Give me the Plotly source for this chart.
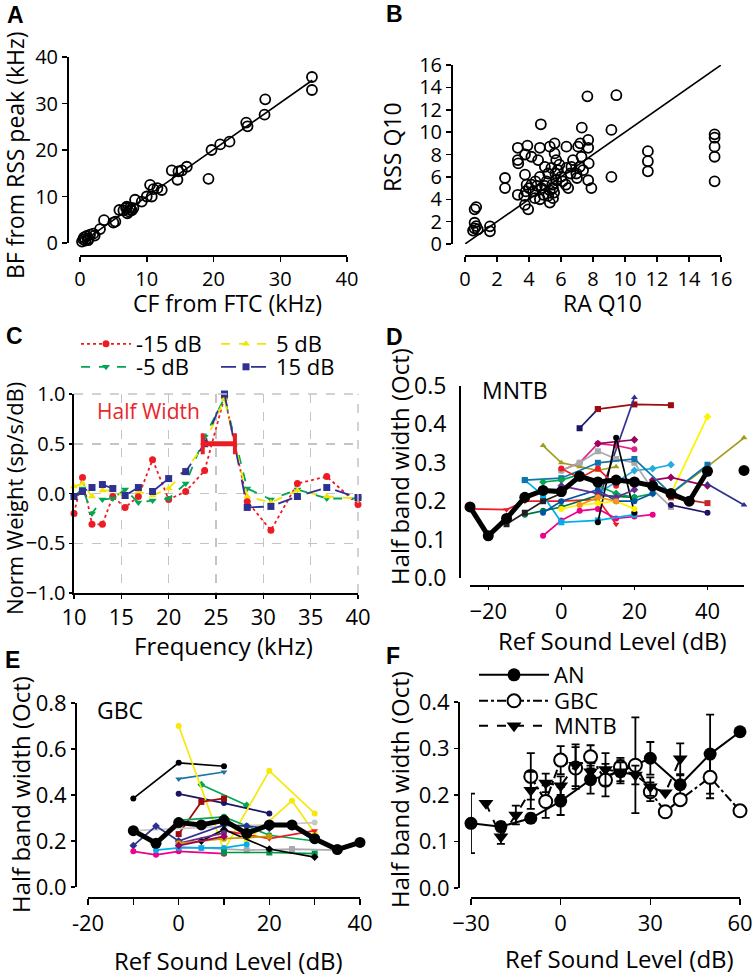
import plotly.graph_objects as go

# ---------------- DATA ----------------
# Panel A
a_cf = [0.3,0.5,0.6,0.8,1.0,1.2,1.3,1.5,2.0,2.2,3.0,3.6,5.0,5.3,5.9,6.5,6.9,7.0,7.1,7.3,7.5,7.6,7.75,8.0,8.25,
        9.25,10.0,10.5,10.75,11.0,11.6,12.25,13.75,14.6,14.75,15.25,16.0,19.25,19.7,21.0,22.4,24.9,25.1,27.65,27.75,34.75,34.75]
a_bf = [0.3,0.8,1.2,0.5,1.5,0.6,1.0,1.8,2.0,1.6,3.0,4.9,4.4,4.6,7.1,7.0,7.5,7.8,6.4,6.8,7.6,7.2,7.0,7.5,9.3,
        8.9,10.0,12.5,10.0,11.6,11.8,11.4,15.6,13.6,15.4,15.6,16.4,13.8,20.0,21.2,21.8,25.9,25.1,27.6,30.9,35.7,32.9]
a_fit_x = [0.3, 34.8]
a_fit_y = [0.2, 35.0]

# Panel B
b_ra = [0.5,0.6,0.7,0.8,0.6,0.7,0.6,1.56,1.56,
        2.5,2.5,3.3,3.3,3.33,3.3,3.9,3.75,3.75,3.85,3.7,3.75,3.95,4.15,4.15,4.26,4.37,4.68,4.74,4.57,4.68,4.78,4.68,
        4.99,5.1,5.2,5.3,5.45,5.3,5.5,5.6,5.6,5.7,5.65,5.7,5.57,6.34,6.34,6.3,6.45,6.75,6.65,6.96,7.0,7.07,7.2,7.3,
        7.17,7.28,7.38,7.65,7.7,7.7,7.73,7.7,7.9,9.15,9.15,9.46,11.43,11.43,11.43,15.6,15.6,15.6,15.6,15.6,
        5.0,5.2,5.4,5.8,6.0,5.9,4.4,4.9,5.5,6.1,6.6,5.3,4.5,4.0,3.8]
b_rss = [1.2,1.4,1.6,1.3,1.9,3.3,3.1,1.58,1.13,
         5.9,5.0,8.6,7.5,7.2,4.4,8.8,8.0,6.2,5.3,4.3,3.5,3.1,7.8,5.3,4.7,4.1,8.6,10.7,7.5,6.0,5.0,4.0,
         6.9,5.6,4.3,8.7,5.3,3.7,4.1,9.0,8.1,7.5,6.3,5.7,4.6,8.7,6.8,5.3,5.0,7.5,6.9,6.3,5.9,8.7,9.0,10.4,
         6.9,7.8,6.6,13.2,9.3,8.6,7.2,5.7,5.0,10.2,6.0,13.3,8.3,7.4,6.5,9.8,9.5,8.7,7.8,5.6,
         5.2,6.3,6.8,6.6,6.0,7.1,5.6,4.4,5.0,5.6,6.3,4.8,5.2,5.0,4.7]
b_fit_x = [0, 16]
b_fit_y = [0, 16]

# Panel C
c_freq = [10.0,10.9,11.9,13.0,14.1,15.4,16.8,18.3,20.0,21.8,23.8,25.9,28.3,30.8,33.6,36.7,40.0]
c_m15 = [-0.20,0.16,-0.31,-0.31,-0.03,-0.14,-0.03,0.34,-0.06,0.02,0.23,0.97,-0.08,-0.37,0.10,0.17,-0.11]
c_m5  = [-0.03,0.05,-0.20,-0.06,-0.05,0.04,-0.09,-0.07,-0.05,0.10,0.57,0.96,0.05,-0.06,0.04,-0.05,-0.05]
c_p5  = [0.07,0.10,-0.03,0.03,0.03,-0.03,0.02,-0.02,0.05,0.23,0.50,0.95,-0.03,-0.09,0.03,-0.03,-0.05]
c_p15 = [-0.03,0.02,0.06,0.09,0.05,-0.02,0.06,0.02,0.15,0.22,0.50,1.00,-0.14,-0.13,-0.03,0.06,-0.04]
c_names = ["-15 dB", "-5 dB", "5 dB", "15 dB"]
half_width_x = [23.6, 27.0]
half_width_y = [0.5, 0.5]

# Panel D (MNTB single neurons + mean)
mntb_levels = [
    [-25,-15,-10,0,10,15], [5,10], [10,20,30], [10,20], [-5,0,5,10,15], [30,40,50], [30,40],
    [-5,0,5,10,15,20,25], [0,5,10,15,20], [10,20], [25,30,40], [-10,-5,0,10,20], [10,20,25,30],
    [0,5,10,15,20,25,30], [-10,0,10,20,30,40], [-10,-5,0,10,20], [-5,0,5,10,15,20,25], [10,15,20],
    [30,40], [30,40], [40,50], [0,5,10,15,20], [0,5,10,15], [-5,0,10,15,20,25], [0,10,15,20],
    [5,10,15], [-15,-10,-5,0]]
mntb_widths = [
    [0.18,0.178,0.2,0.2,0.205,0.14], [0.39,0.44], [0.44,0.452,0.45], [0.2,0.47], [0.345,0.3,0.29,0.28,0.29],
    [0.22,0.29,0.365], [0.22,0.42], [0.11,0.15,0.175,0.18,0.155,0.16,0.165], [0.28,0.3,0.35,0.345,0.335],
    [0.35,0.36], [0.255,0.262,0.24], [0.255,0.215,0.145,0.15,0.165], [0.22,0.28,0.285,0.295],
    [0.28,0.3,0.33,0.31,0.3,0.23,0.185], [0.255,0.26,0.3,0.31,0.22,0.295], [0.165,0.175,0.185,0.215,0.21],
    [0.25,0.255,0.27,0.24,0.22,0.21,0.22], [0.145,0.365,0.17], [0.21,0.195], [0.19,0.17], [0.245,0.19],
    [0.18,0.19,0.195,0.2,0.18], [0.285,0.26,0.285,0.24], [0.17,0.2,0.23,0.2,0.2,0.22], [0.24,0.22,0.21,0.23],
    [0.19,0.21,0.2], [0.14,0.17,0.2,0.22]]
mntb_colors = ['#ed1c24','#1b1464','#9e0b0f','#2e3192','#a19c1e','#a19c1e','#fff200','#ec008c','#e0218a',
               '#9e005d','#9e005d','#00aeef','#27aae1','#a7a9ac','#0f75a8','#00743f','#00a651','#000000',
               '#c1272d','#1b1464','#2e3192','#fff200','#ed1c24','#0054a6','#662d91','#f7941d','#231f20']
mntb_symbols = ['triangle-down','square','square','triangle-up','triangle-up','triangle-up','diamond','circle',
                'circle','diamond','diamond','square','diamond','square','square','circle','diamond','circle',
                'square','circle','triangle-up','circle','circle','circle','diamond','circle','square']
mntb_mean_levels = [-25,-20,-15,-10,-5,0,5,10,15,20,25,30,35,40]
mntb_mean_widths = [0.185,0.11,0.155,0.21,0.228,0.225,0.265,0.25,0.255,0.25,0.24,0.22,0.2,0.278]
mntb_extra_level = [50]
mntb_extra_width = [0.28]

# Panel E (GBC single neurons + mean)
gbc_levels = [
    [-10,0,10], [0,10], [5,15], [0,10,20], [0,10,20,30], [15,25,30], [0,5,10], [0,10,15,20,30], [-10,30],
    [0,5,15,25,35], [-10,-5,0,10,15,20], [-10,-5,0,10], [-5,0,5,10,15], [10,20,30], [10,20,30],
    [5,10,20,30], [0,10], [0,10,20], [0,10]]
gbc_widths = [
    [0.385,0.54,0.525], [0.47,0.5], [0.445,0.355], [0.405,0.365,0.32], [0.7,0.16,0.505,0.32], [0.2,0.375,0.235],
    [0.23,0.37,0.385], [0.29,0.305,0.265,0.225,0.2], [0.245,0.28], [0.175,0.17,0.16,0.165,0.16],
    [0.18,0.265,0.2,0.27,0.265,0.255], [0.155,0.14,0.155,0.145], [0.16,0.17,0.17,0.17,0.185],
    [0.245,0.21,0.245], [0.15,0.15,0.145], [0.2,0.25,0.165,0.13], [0.19,0.235], [0.19,0.21,0.22], [0.18,0.22]]
gbc_colors = ['#000000','#1b75a0','#00a651','#1b1464','#f5e80f','#f5e80f','#9e0b0f','#00a651','#c8c8c8',
              '#a7a9ac','#2e3192','#ec008c','#00aeef','#ed1c24','#009245','#000000','#662d91','#c69c00','#9e005d']
gbc_symbols = ['circle','triangle-down','diamond','circle','circle','circle','square','circle','circle','square',
               'diamond','circle','circle','triangle-down','square','diamond','circle','circle','diamond']
gbc_mean_levels = [-10,-5,0,5,10,15,20,25,30,35,40]
gbc_mean_widths = [0.245,0.19,0.28,0.27,0.29,0.233,0.27,0.27,0.21,0.163,0.194]

# Panel F (population means with error bars)
an_levels = [-30,-20,-10,0,10,20,30,40,50,60]
an_mean = [0.139,0.132,0.15,0.187,0.233,0.25,0.279,0.222,0.288,0.336]
an_err = [0.064,0.01,0.01,0.03,0.03,0.025,0.035,0.02,0.085,0.0]
gbc_f_levels = [-10,-5,0,5,10,15,20,25,30,35,40,50,60]
gbc_f_mean = [0.24,0.186,0.275,0.258,0.282,0.232,0.26,0.264,0.207,0.164,0.19,0.238,0.166]
gbc_f_err = [0.05,0.035,0.03,0.045,0.025,0.035,0.02,0.103,0.02,0.0,0.0,0.045,0.0]
mntb_f_levels = [-25,-20,-15,-10,-5,0,5,10,15,20,25,30,35,40]
mntb_f_mean = [0.182,0.11,0.157,0.21,0.226,0.22,0.264,0.25,0.255,0.25,0.243,0.218,0.205,0.278]
mntb_f_err = [0.0,0.015,0.02,0.04,0.02,0.02,0.045,0.02,0.035,0.02,0.02,0.02,0.0,0.033]

# ---------------- FIGURE ----------------
W, H = 756, 976
FONT = "Open Sans"


def xdom(a, b):
    return [a / W, b / W]


def ydom(top, bottom):
    return [1 - bottom / H, 1 - top / H]


fig = go.Figure()


def sc(x, y, xa, ya, **kw):
    d = dict(x=x, y=y, xaxis=xa, yaxis=ya, cliponaxis=False, showlegend=False, hoverinfo='skip')
    d.update(kw)
    fig.add_trace(go.Scatter(**d))


# A
sc(a_fit_x, a_fit_y, 'x', 'y', mode='lines', line=dict(color='black', width=1.6))
sc(a_cf, a_bf, 'x', 'y', mode='markers',
   marker=dict(symbol='circle-open', size=10, color='black', line=dict(width=1.8, color='black')))
# B
sc(b_fit_x, b_fit_y, 'x2', 'y2', mode='lines', line=dict(color='black', width=1.6))
sc(b_ra, b_rss, 'x2', 'y2', mode='markers',
   marker=dict(symbol='circle-open', size=10, color='black', line=dict(width=1.8, color='black')))

# C
c_series = [c_m15, c_m5, c_p5, c_p15]
c_colors = ['#ed1c24', '#00a651', '#f2e600', '#2e3192']
c_dash = ['dot', 'dash', 'dash', 'longdash']
c_sym = ['circle', 'triangle-down', 'triangle-up', 'square']
c_legs = ['legend', 'legend3', 'legend2', 'legend4']
for s, col, da, sy, lg, nm in zip(c_series, c_colors, c_dash, c_sym, c_legs, c_names):
    sc(c_freq, s, 'x3', 'y3', mode='lines+markers', name=nm, showlegend=True, legend=lg,
       line=dict(color=col, width=1.8, dash=da), marker=dict(symbol=sy, size=7, color=col))
sc(half_width_x, half_width_y, 'x3', 'y3', mode='lines+markers', line=dict(color='#ed1c24', width=5),
   marker=dict(symbol='line-ns', size=15, color='#ed1c24', line=dict(width=4, color='#ed1c24')))

# D
for xs, ys, col, sy in zip(mntb_levels, mntb_widths, mntb_colors, mntb_symbols):
    sc(xs, ys, 'x4', 'y4', mode='lines+markers', line=dict(color=col, width=1.7),
       marker=dict(symbol=sy, size=6, color=col))
sc(mntb_mean_levels, mntb_mean_widths, 'x4', 'y4', mode='lines+markers', line=dict(color='black', width=5),
   marker=dict(symbol='circle', size=11, color='black'))
sc(mntb_extra_level, mntb_extra_width, 'x4', 'y4', mode='markers', marker=dict(symbol='circle', size=11, color='black'))

# E
for xs, ys, col, sy in zip(gbc_levels, gbc_widths, gbc_colors, gbc_symbols):
    sc(xs, ys, 'x5', 'y5', mode='lines+markers', line=dict(color=col, width=1.7),
       marker=dict(symbol=sy, size=6, color=col))
sc(gbc_mean_levels, gbc_mean_widths, 'x5', 'y5', mode='lines+markers', line=dict(color='black', width=5),
   marker=dict(symbol='circle', size=11, color='black'))

# F
errstyle = dict(type='data', color='black', thickness=1.8, width=4)
sc(an_levels, an_mean, 'x6', 'y6', mode='lines+markers', name='AN', showlegend=True, legend='legend5',
   line=dict(color='black', width=2), marker=dict(symbol='circle', size=13, color='black'),
   error_y=dict(array=an_err, **errstyle))
sc(gbc_f_levels, gbc_f_mean, 'x6', 'y6', mode='lines+markers', name='GBC', showlegend=True, legend='legend6',
   line=dict(color='black', width=2, dash='dashdot'),
   marker=dict(symbol='circle', size=13, color='white', line=dict(width=2, color='black')),
   error_y=dict(array=gbc_f_err, **errstyle))
sc(mntb_f_levels, mntb_f_mean, 'x6', 'y6', mode='lines+markers', name='MNTB', showlegend=True, legend='legend7',
   line=dict(color='black', width=2, dash='dash'), marker=dict(symbol='triangle-down', size=13, color='black'),
   error_y=dict(array=mntb_f_err, **errstyle))


def axis(size=22, **kw):
    base = dict(showgrid=False, zeroline=False, showline=True, linecolor='black', linewidth=1.6,
                ticks='outside', ticklen=5, tickwidth=1.5, tickcolor='black', automargin=False,
                tickfont=dict(family=FONT, size=size, color='black'))
    base.update(kw)
    return base


layout = dict(
    width=W, height=H, margin=dict(l=0, r=0, t=0, b=0, pad=0, autoexpand=False),
    paper_bgcolor='white', plot_bgcolor='rgba(0,0,0,0)',
    font=dict(family=FONT, color='black'),
    xaxis=axis(20, domain=xdom(80, 347), range=[0, 40], dtick=10, anchor='free', position=1 - 255 / H),
    yaxis=axis(20, domain=ydom(57, 243), range=[0, 40], dtick=10, anchor='free', position=67 / W),
    xaxis2=axis(20, domain=xdom(465, 721), range=[0, 16], dtick=2, anchor='free', position=1 - 255 / H),
    yaxis2=axis(20, domain=ydom(65, 244), range=[0, 16], dtick=2, anchor='free', position=451 / W),
    xaxis3=axis(22, domain=xdom(74, 358), range=[10, 40], dtick=5, anchor='y3', ticklen=4,
                showgrid=True, gridcolor='#c4c4c4', griddash='dash', gridwidth=1.5),
    yaxis3=axis(20, domain=ydom(394, 593), range=[-1, 1], dtick=0.5, anchor='x3', ticklen=3, tickformat='.1f',
                showgrid=True, gridcolor='#c4c4c4', griddash='dash', gridwidth=1.5),
    xaxis4=axis(22, domain=xdom(470, 744), range=[-25, 50], tickvals=[-20, 0, 20, 40], ticklen=3,
                ticklabelstandoff=3, anchor='free', position=1 - 585 / H),
    yaxis4=axis(23, domain=ydom(386, 578), range=[0, 0.5], dtick=0.1, tickformat='.1f', ticks='',
                ticklabelstandoff=8, anchor='free', position=459 / W),
    xaxis5=axis(22, domain=xdom(88, 360), range=[-20, 40], tickvals=[-20, -10, 0, 10, 20, 30, 40],
                ticktext=['-20', '', '0', '', '20', '', '40'], ticklen=6, anchor='free', position=1 - 897 / H),
    yaxis5=axis(22, domain=ydom(703, 887), range=[0, 0.8], dtick=0.2, tickformat='.1f', ticklen=4,
                anchor='free', position=75 / W),
    xaxis6=axis(22, domain=xdom(471, 740), range=[-30, 60], dtick=30, ticklen=6, anchor='free', position=1 - 897 / H),
    yaxis6=axis(22, domain=ydom(702, 888), range=[0, 0.4], dtick=0.1, tickformat='.1f', ticklen=4,
                anchor='free', position=458 / W),
)


def leg(xp, yp, iw=50, size=22):
    return dict(x=xp / W, y=1 - yp / H, xanchor='left', yanchor='middle', bgcolor='rgba(0,0,0,0)',
                font=dict(family=FONT, size=size, color='black'), itemwidth=iw, borderwidth=0,
                tracegroupgap=0, itemclick=False, itemdoubleclick=False)


layout['legend'] = leg(76, 344)
layout['legend3'] = leg(76, 367)
layout['legend2'] = leg(216, 344)
layout['legend4'] = leg(216, 367)
layout['legend5'] = leg(474, 675, 70)
layout['legend6'] = leg(474, 701, 70)
layout['legend7'] = leg(474, 726, 70)

anns = []


def ann(text, x, y, size=24, rot=0, color='black', bold=False, xanchor='center', family=FONT):
    t = '<b>%s</b>' % text if bold else text
    anns.append(dict(text=t, x=x / W, y=1 - y / H, xref='paper', yref='paper', showarrow=False,
                     xanchor=xanchor, yanchor='middle', textangle=rot,
                     font=dict(family=family, size=size, color=color)))


# panel letters
for letter, lx, ly in [('A', 5, 15), ('B', 384, 14), ('C', 4, 336), ('D', 384, 337), ('E', 3, 660), ('F', 384, 656)]:
    ann(letter, lx, ly, size=23, bold=True, xanchor='left', family='Liberation Sans')

# axis titles
ann('CF from FTC (kHz)', 227, 303, 23)
ann('BF from RSS peak (kHz)', 15, 155, 23, rot=-90)
ann('RA Q10', 602, 303, 23)
ann('RSS Q10', 392, 147, 23, rot=-90)
ann('Frequency (kHz)', 223, 645)
ann('Norm Weight (sp/s/dB)', 14, 499, 22, rot=-90)
ann('Ref Sound Level (dB)', 612, 640)
ann('Half band width (Oct)', 400, 467, rot=-90)
ann('Ref Sound Level (dB)', 228, 960)
ann('Half band width (Oct)', 20, 795, rot=-90)
ann('Ref Sound Level (dB)', 619, 958)
ann('Half band width (Oct)', 399, 790, rot=-90)
# in-panel labels
ann('MNTB', 480, 390, 23, xanchor='left')
ann('GBC', 95, 710, 23, xanchor='left')
ann('Half Width', 95, 411, 21, color='#e8262a', xanchor='left')

layout['annotations'] = anns
# dashed frame edges of the gridded panel C (top and right)
layout['shapes'] = [
    dict(type='line', xref='x3 domain', yref='y3 domain', x0=0, x1=1, y0=1, y1=1,
         line=dict(color='#c4c4c4', width=1.5, dash='dash')),
    dict(type='line', xref='x3 domain', yref='y3 domain', x0=1, x1=1, y0=0, y1=1,
         line=dict(color='#c4c4c4', width=1.5, dash='dash')),
]
fig.update_layout(**layout)
fig.write_html("out.html", config={'displayModeBar': False, 'staticPlot': True},
               post_script="document.body.style.margin='0px';document.body.style.overflow='hidden';")
